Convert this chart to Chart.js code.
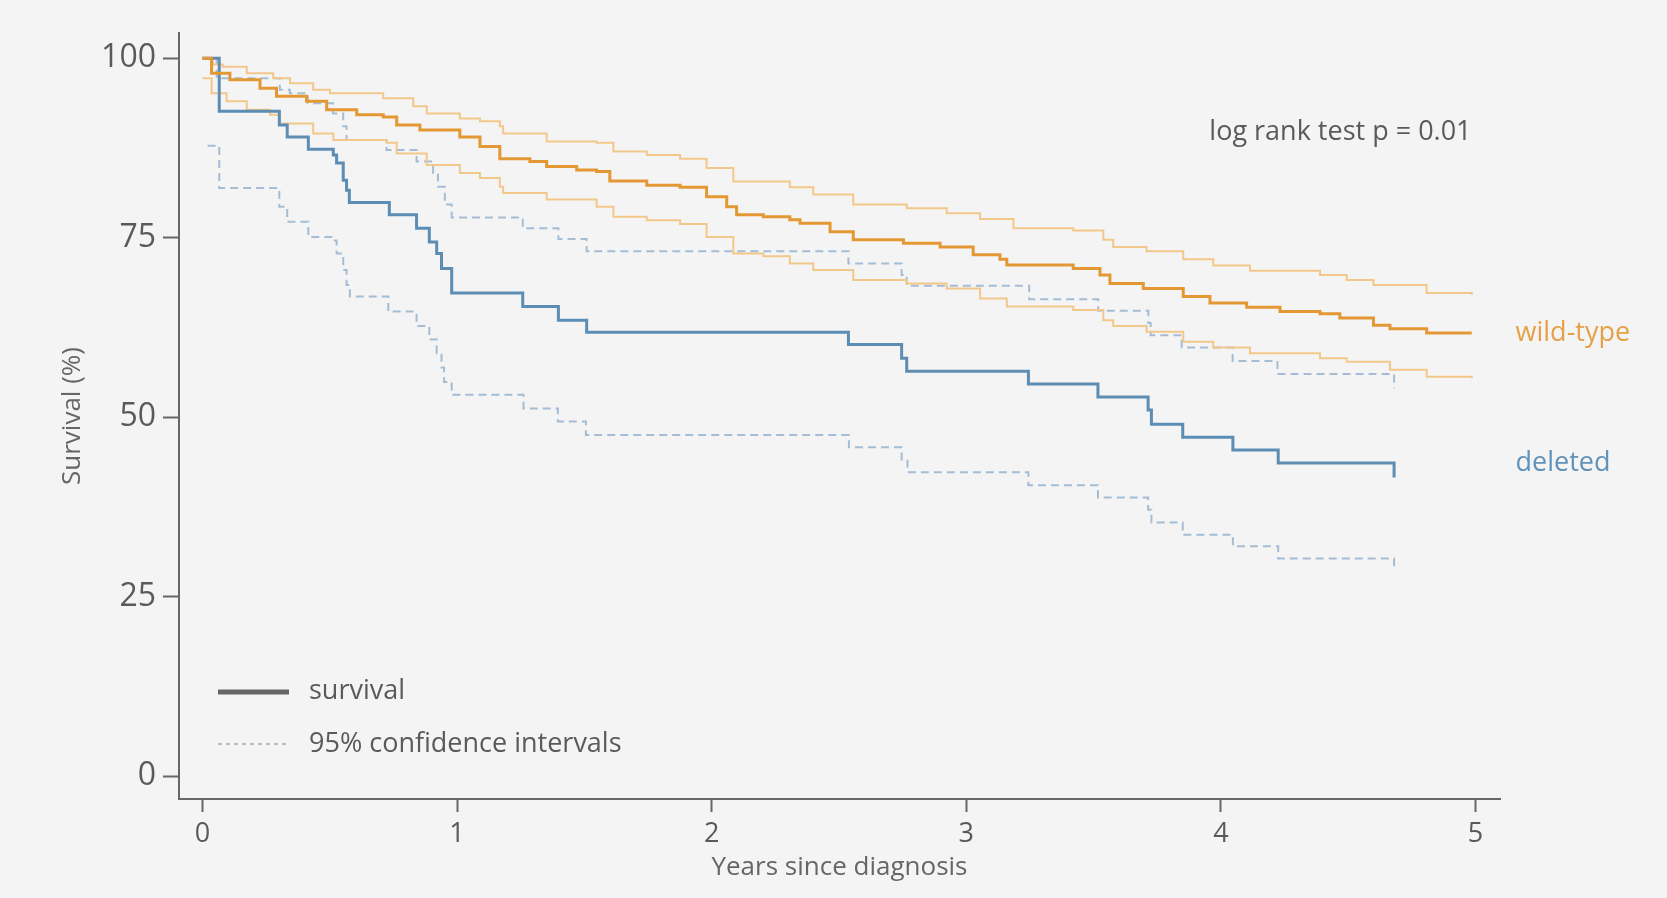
<!DOCTYPE html>
<html>
<head>
<meta charset="utf-8">
<script src="https://cdn.jsdelivr.net/npm/chart.js@4.4.1/dist/chart.umd.min.js"></script>
<style>
  html, body { margin: 0; padding: 0; background: #f4f4f4; }
  canvas { display: block; }
</style>
</head>
<body>
<canvas id="chart" width="1667" height="898"></canvas>
<script>
// tick labels
const xTicks = [0, 1, 2, 3, 4, 5]
const yTicks = [0, 25, 50, 75, 100]

// wild-type: survival and 95% CI (years, %)
const wildT = [0, 0.036, 0.108, 0.226, 0.291, 0.409, 0.488, 0.606, 0.71, 0.763, 0.854, 1.011, 1.09, 1.168, 1.286, 1.352, 1.47, 1.548, 1.6, 1.745, 1.876, 1.98, 2.059, 2.098, 2.203, 2.307, 2.347, 2.465, 2.556, 2.753, 2.897, 3.027, 3.132, 3.159, 3.42, 3.525, 3.564, 3.695, 3.852, 3.957, 4.101, 4.232, 4.389, 4.467, 4.599, 4.664, 4.808, 4.985]
const wildV = [100, 97.9, 97.0, 95.8, 94.7, 94.0, 92.8, 92.1, 91.8, 90.7, 90.0, 89.0, 87.7, 86.0, 85.6, 84.9, 84.4, 84.2, 82.9, 82.3, 82.0, 80.7, 79.3, 78.2, 77.9, 77.5, 77.0, 75.8, 74.7, 74.2, 73.7, 72.6, 72.0, 71.2, 70.7, 69.8, 68.6, 67.9, 66.8, 65.9, 65.3, 64.7, 64.4, 63.8, 62.8, 62.3, 61.7, 61.7]
const wildUpT = [0, 0.04, 0.08, 0.174, 0.278, 0.344, 0.435, 0.501, 0.71, 0.828, 0.881, 1.011, 1.09, 1.168, 1.181, 1.352, 1.548, 1.614, 1.745, 1.876, 1.98, 2.085, 2.307, 2.399, 2.556, 2.766, 2.923, 3.054, 3.185, 3.42, 3.538, 3.577, 3.708, 3.852, 3.97, 4.114, 4.389, 4.494, 4.599, 4.808, 4.985]
const wildUpV = [100, 99.1, 98.8, 97.9, 97.2, 96.5, 95.6, 95.1, 94.4, 93.3, 92.3, 91.6, 91.2, 90.5, 89.5, 88.4, 88.2, 87.0, 86.5, 86.0, 84.7, 82.8, 82.0, 81.0, 79.6, 79.1, 78.4, 77.6, 76.3, 76.0, 74.7, 73.7, 73.1, 72.0, 71.1, 70.4, 69.8, 69.1, 68.4, 67.3, 67.0]
const wildLoT = [0, 0.036, 0.095, 0.174, 0.265, 0.305, 0.435, 0.514, 0.723, 0.763, 0.881, 1.011, 1.09, 1.168, 1.181, 1.352, 1.548, 1.614, 1.745, 1.876, 1.98, 2.085, 2.203, 2.307, 2.399, 2.556, 2.766, 2.923, 3.054, 3.159, 3.42, 3.538, 3.577, 3.708, 3.852, 3.97, 4.114, 4.389, 4.494, 4.664, 4.808, 4.985]
const wildLoV = [97.2, 95.1, 94.0, 92.8, 92.1, 90.9, 89.5, 88.6, 88.2, 86.7, 85.1, 84.0, 83.3, 82.1, 81.2, 80.3, 79.3, 77.9, 77.4, 76.9, 75.1, 72.8, 72.4, 71.4, 70.5, 69.1, 68.6, 67.9, 66.5, 65.4, 64.9, 63.5, 62.7, 61.9, 60.5, 59.7, 58.9, 58.2, 57.7, 56.6, 55.6, 55.4]

// deleted: survival and 95% CI
const delT = [0, 0.066, 0.302, 0.333, 0.416, 0.514, 0.527, 0.553, 0.566, 0.577, 0.734, 0.841, 0.891, 0.92, 0.939, 0.979, 1.258, 1.398, 1.509, 2.537, 2.746, 2.766, 3.244, 3.517, 3.714, 3.727, 3.85, 4.047, 4.225, 4.68, 4.68]
const delV = [100, 92.6, 90.7, 89.0, 87.3, 86.5, 85.4, 83.0, 81.6, 79.9, 78.2, 76.3, 74.4, 72.8, 70.7, 67.3, 65.4, 63.5, 61.8, 60.1, 58.2, 56.4, 54.6, 52.8, 51.0, 49.0, 47.2, 45.4, 43.6, 43.6, 41.6]
const delUpT = [0, 0.056, 0.304, 0.343, 0.414, 0.513, 0.553, 0.566, 0.723, 0.841, 0.906, 0.925, 0.952, 0.979, 1.258, 1.398, 1.509, 2.537, 2.746, 2.766, 3.247, 3.518, 3.715, 3.724, 3.846, 4.046, 4.222, 4.68, 4.68]
const delUpV = [100, 97.2, 95.6, 95.1, 93.7, 92.3, 90.5, 88.6, 87.2, 85.6, 84.0, 82.1, 79.6, 77.8, 76.3, 74.8, 73.1, 71.4, 69.8, 68.3, 66.4, 64.8, 63.1, 61.4, 59.7, 57.8, 56.0, 56.0, 54.0]
const delLoT = [0.02, 0.066, 0.302, 0.333, 0.416, 0.514, 0.527, 0.553, 0.566, 0.579, 0.73, 0.841, 0.891, 0.92, 0.939, 0.949, 0.979, 1.261, 1.396, 1.506, 2.539, 2.746, 2.769, 3.244, 3.517, 3.714, 3.727, 3.85, 4.047, 4.225, 4.68, 4.68]
const delLoV = [87.8, 81.9, 79.3, 77.2, 75.1, 74.6, 72.8, 70.5, 68.4, 66.8, 64.7, 62.7, 60.8, 58.9, 56.9, 54.9, 53.1, 51.2, 49.4, 47.5, 45.8, 44.1, 42.3, 40.5, 38.8, 37.1, 35.3, 33.6, 32.0, 30.3, 30.3, 28.6]

const ORANGE = 'rgb(227, 152, 52)'
const ORANGE_CI = 'rgb(242, 200, 138)'
const BLUE = 'rgb(92, 141, 180)'
const BLUE_CI = 'rgb(164, 189, 213)'
const TEXT = '#5a5a5a'
const FONT = "'Open Sans', sans-serif"

const pts = (ts, vs) => ts.map((t, i) => ({x: t, y: vs[i]}))

function curve(ts, vs, color, width, dash) {
  return {
    data: pts(ts, vs),
    borderColor: color,
    borderWidth: width,
    borderDash: dash || [],
    stepped: true,
    pointRadius: 0,
    fill: false,
    tension: 0
  }
}

const background = {
  id: 'background',
  beforeDraw(chart) {
    const ctx = chart.ctx
    ctx.save()
    ctx.fillStyle = '#f4f4f4'
    ctx.fillRect(0, 0, chart.width, chart.height)
    ctx.restore()
  }
}

// p-value, end labels and the key
const notes = {
  id: 'notes',
  afterDraw(chart) {
    const ctx = chart.ctx
    const x = chart.scales.x, y = chart.scales.y
    ctx.save()
    ctx.font = '27px ' + FONT
    ctx.textBaseline = 'middle'

    ctx.fillStyle = TEXT
    ctx.textAlign = 'right'
    ctx.fillText('log rank test p = 0.01', x.getPixelForValue(5) - 4, 132)

    ctx.textAlign = 'left'
    ctx.fillStyle = 'rgb(230, 160, 72)'
    ctx.fillText('wild-type', x.getPixelForValue(5) + 40, y.getPixelForValue(wildV[wildV.length - 1]))
    ctx.fillStyle = 'rgb(96, 146, 186)'
    ctx.fillText('deleted', x.getPixelForValue(5) + 40, y.getPixelForValue(delV[delV.length - 3]))

    ctx.strokeStyle = '#666'
    ctx.lineWidth = 5
    ctx.beginPath(); ctx.moveTo(218, 692); ctx.lineTo(289, 692); ctx.stroke()
    ctx.strokeStyle = '#aaa'
    ctx.lineWidth = 1.5
    ctx.setLineDash([4, 4])
    ctx.beginPath(); ctx.moveTo(218, 744); ctx.lineTo(289, 744); ctx.stroke()
    ctx.setLineDash([])
    ctx.fillStyle = TEXT
    ctx.fillText('survival', 309, 691)
    ctx.fillText('95% confidence intervals', 309, 744)
    ctx.restore()
  }
}

new Chart(document.getElementById('chart'), {
  type: 'line',
  data: {
    datasets: [
      curve(wildT, wildV, ORANGE, 3),
      curve(delT, delV, BLUE, 3),
      curve(wildUpT, wildUpV, ORANGE_CI, 2),
      curve(wildLoT, wildLoV, ORANGE_CI, 2),
      curve(delUpT, delUpV, BLUE_CI, 2, [8, 5]),
      curve(delLoT, delLoV, BLUE_CI, 2, [8, 5])
    ]
  },
  options: {
    responsive: false,
    animation: false,
    devicePixelRatio: 1,
    layout: {padding: {top: 33, right: 167, left: 0, bottom: 0}},
    plugins: {
      legend: {display: false},
      tooltip: {enabled: false}
    },
    scales: {
      x: {
        type: 'linear',
        min: -0.092,
        max: 5.096,
        afterFit: (s) => { s.height = 99 },
        afterBuildTicks: (s) => { s.ticks = xTicks.map(v => ({value: v})) },
        border: {display: true, color: '#666', width: 2},
        grid: {drawOnChartArea: false, drawTicks: true, tickLength: 13, tickColor: '#666', tickWidth: 2},
        ticks: {color: TEXT, padding: 6, maxRotation: 0, font: {family: FONT, size: 27}},
        title: {display: true, text: 'Years since diagnosis', color: '#666', font: {family: FONT, size: 26}, padding: {top: 0, bottom: 15}}
      },
      y: {
        type: 'linear',
        min: -3.2,
        max: 103.5,
        afterFit: (s) => { s.width = 179 },
        afterBuildTicks: (s) => { s.ticks = yTicks.map(v => ({value: v})) },
        border: {display: true, color: '#666', width: 2},
        grid: {drawOnChartArea: false, drawTicks: true, tickLength: 16, tickColor: '#666', tickWidth: 2},
        ticks: {color: TEXT, padding: 7, font: {family: FONT, size: 32}},
        title: {display: true, text: 'Survival (%)', color: '#666', font: {family: FONT, size: 26}, padding: {top: 57, bottom: 0}}
      }
    }
  },
  plugins: [background, notes]
})
</script>
</body>
</html>
